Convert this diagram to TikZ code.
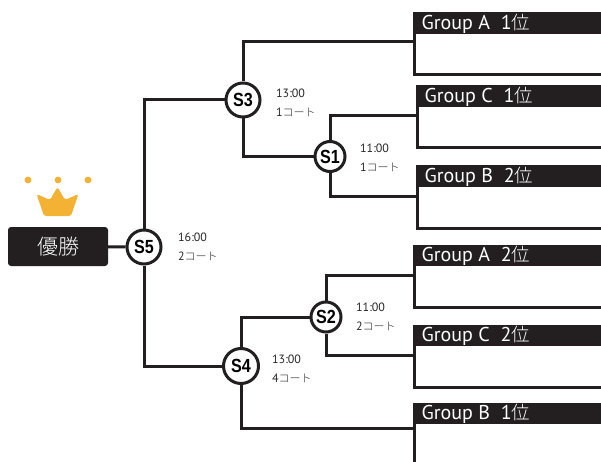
\documentclass[tikz,border=0pt]{standalone}
\usepackage{fontspec}
\setmainfont{PT Sans}
\newfontfamily\jplight{Noto Sans CJK JP Light}
\newfontfamily\matchfont[FakeStretch=0.85]{Liberation Sans Bold}
\usetikzlibrary{positioning}
\usetikzlibrary{calc}
\usetikzlibrary{backgrounds}
\definecolor{bracketColor}{HTML}{231F20}
\definecolor{crownColor}{HTML}{F3B233}

\tikzset{
  wire/.style={draw=bracketColor, line width=3pt},
  match/.style={circle, draw=bracketColor, line width=3pt, fill=white, inner sep=0, font=\fontsize{19}{19}\matchfont},
  slot/.style={wire, fill=white, rectangle, anchor=north west, inner sep=0, outer sep=0, minimum width=200pt, minimum height=61pt},
  slothead/.style={fill=bracketColor, rectangle, anchor=north west, inner sep=0, outer sep=0, minimum width=200pt, minimum height=21pt},
  slottext/.style={text=white, anchor=west, inner sep=0, font=\fontsize{20}{20}\selectfont},
  timing/.style={text=black!85, anchor=west, inner sep=0, align=left, font=\fontsize{12}{18.5}\selectfont}
}

\begin{document}
\begin{tikzpicture}[x=1pt, y=-1pt]
  \useasboundingbox (0,0) rectangle (601,462);

  % group slots
  \foreach \name/\xx/\yy/\label in {a1/414/14/{Group A\ \ 1},c1/417/87/{Group C\ \ 1},b2/417/167/{Group B\ \ 2},a2/414/246/{Group A\ \ 2},c2/414/326/{Group C\ \ 2},b1/414/404/{Group B\ \ 1}}{
    \node[slot] (\name) at (\xx,\yy) {};
    \node[slothead] (\name-head) at ($(\xx,\yy)+(-1,-1)$) {};
    \node[slottext] (\name-text) at ($(\xx,\yy)+(7.5,9.5)$) {\label{\jplight\fontsize{18.5}{18.5}\selectfont 位}};
  }

  % wire ends
  \coordinate (a1end) at (a1.west |- 0,42);
  \coordinate (c1end) at (c1.west |- 0,116);
  \coordinate (b2end) at (b2.west |- 0,196);
  \coordinate (a2end) at (a2.west |- 0,275);
  \coordinate (c2end) at (c2.west |- 0,355);
  \coordinate (b1end) at (b1.west |- 0,428);

  \node[match, minimum size=34pt] (s3) at (243,100) {S3};
  \node[match, minimum size=30pt] (s1) at (330,156.5) {S1};
  \node[match, minimum size=34pt] (s5) at (144,247) {S5};
  \node[match, minimum size=30pt] (s2) at (326,317) {S2};
  \node[match, minimum size=35pt] (s4) at (241,366) {S4};

  \node[fill=bracketColor, rounded corners=3pt, minimum width=100pt, minimum height=39pt, inner sep=0, text=white, font=\fontsize{21}{21}\jplight] (winner) at (58,246.5) {優勝};

  \begin{scope}[on background layer]
    \draw[wire] (s3) |- (a1end);
    \draw[wire] (s3) |- (s1);
    \draw[wire] (s1) |- (c1end);
    \draw[wire] (s1) |- (b2end);
    \draw[wire] (s5) |- (s3);
    \draw[wire] (s5) |- (s4);
    \draw[wire] (s2) |- (a2end);
    \draw[wire] (s2) |- (c2end);
    \draw[wire] (s4) |- (s2);
    \draw[wire] (s4) |- (b1end);
    \draw[wire] (winner) -- (s5);
  \end{scope}

  \node[timing] (t3) at (276,103) {13:00\\1{\jplight\fontsize{11}{18.5}\selectfont コート}};
  \node[timing] (t1) at (360,158) {11:00\\1{\jplight\fontsize{11}{18.5}\selectfont コート}};
  \node[timing] (t5) at (178,247) {16:00\\2{\jplight\fontsize{11}{18.5}\selectfont コート}};
  \node[timing] (t2) at (356,317) {11:00\\2{\jplight\fontsize{11}{18.5}\selectfont コート}};
  \node[timing] (t4) at (272,369) {13:00\\4{\jplight\fontsize{11}{18.5}\selectfont コート}};

  % crown
  \foreach \xx in {28,58,88}{
    \fill[crownColor] (\xx,180) circle (3.4pt);
  }
  \fill[crownColor, rounded corners=2.5pt] (44,216) -- (71,216) -- (78.5,194) -- (65,200) -- (57.5,187) -- (50,200) -- (36.5,194) -- cycle;
\end{tikzpicture}
\end{document}
